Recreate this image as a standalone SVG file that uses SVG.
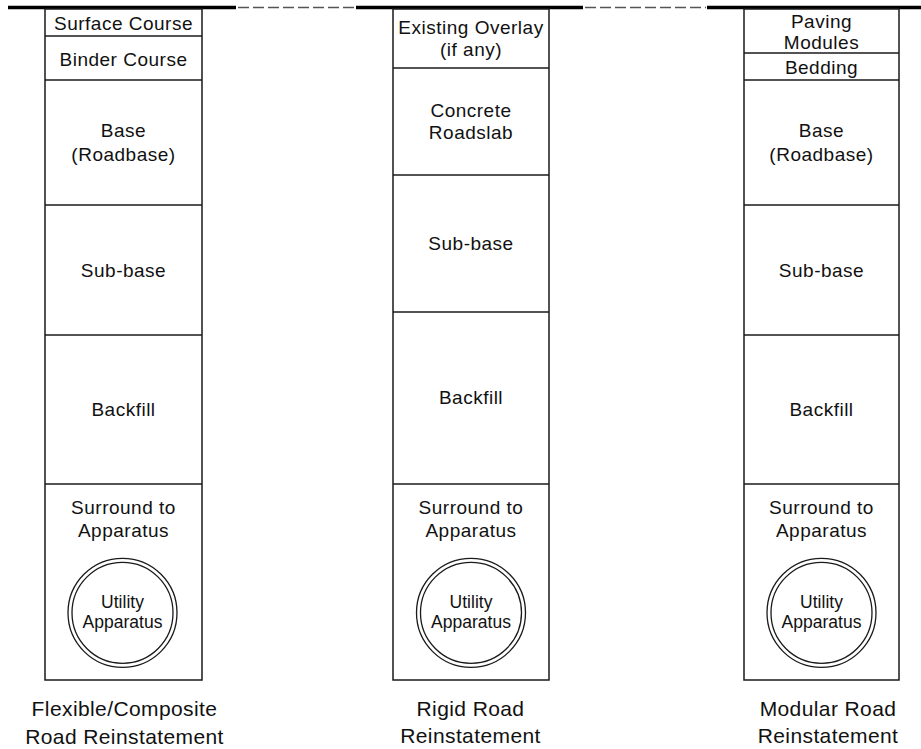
<svg xmlns="http://www.w3.org/2000/svg" width="921" height="749" viewBox="0 0 921 749">
<style>
.col{fill:#fff;stroke:#1a1a1a;stroke-width:1.5}
.div{stroke:#1a1a1a;stroke-width:1.5}
.t{font-family:"Liberation Sans",Arial,sans-serif;font-size:19px;letter-spacing:0.5px;fill:#111;text-anchor:middle}
.s{font-family:"Liberation Sans",Arial,sans-serif;font-size:17.5px;fill:#111;text-anchor:middle}
.c{font-family:"Liberation Sans",Arial,sans-serif;font-size:21px;letter-spacing:0.4px;fill:#111;text-anchor:middle}
.ring{fill:none;stroke:#1a1a1a;stroke-width:1.3}
.ground{stroke:#000;stroke-width:3.5;fill:none}
.dash{stroke:#555;stroke-width:1.5;stroke-dasharray:11 4;fill:none}
</style>
<rect width="921" height="749" fill="#fff"/>
<g id="ground">
<line class="ground" x1="8" y1="7.5" x2="236" y2="7.5"/>
<line class="dash" x1="238" y1="7.5" x2="355" y2="7.5"/>
<line class="ground" x1="356" y1="7.5" x2="583" y2="7.5"/>
<line class="dash" x1="585" y1="7.5" x2="706" y2="7.5"/>
<line class="ground" x1="707" y1="7.5" x2="921" y2="7.5"/>
</g>
<g id="flexible">
<rect class="col" x="45" y="9" width="157" height="671"/>
<line class="div" x1="45" y1="36" x2="202" y2="36"/>
<line class="div" x1="45" y1="80" x2="202" y2="80"/>
<line class="div" x1="45" y1="205" x2="202" y2="205"/>
<line class="div" x1="45" y1="335" x2="202" y2="335"/>
<line class="div" x1="45" y1="484" x2="202" y2="484"/>
<text class="t" x="123.5" y="30">Surface Course</text>
<text class="t" x="123.5" y="66">Binder Course</text>
<text class="t" x="123.5" y="137">Base</text>
<text class="t" x="123.5" y="161">(Roadbase)</text>
<text class="t" x="123.5" y="277">Sub-base</text>
<text class="t" x="123.5" y="416">Backfill</text>
<text class="t" x="123.5" y="514">Surround to</text>
<text class="t" x="123.5" y="537">Apparatus</text>
<circle class="ring" cx="122.5" cy="612.8" r="54.5"/>
<circle class="ring" cx="122.5" cy="612.8" r="50.5"/>
<text class="s" x="122.5" y="608">Utility</text>
<text class="s" x="122.5" y="628">Apparatus</text>
<text class="c" x="124.5" y="716">Flexible/Composite</text>
<text class="c" x="124.5" y="744">Road Reinstatement</text>
</g>
<g id="rigid">
<rect class="col" x="393" y="9" width="156" height="671"/>
<line class="div" x1="393" y1="68" x2="549" y2="68"/>
<line class="div" x1="393" y1="175" x2="549" y2="175"/>
<line class="div" x1="393" y1="312" x2="549" y2="312"/>
<line class="div" x1="393" y1="484" x2="549" y2="484"/>
<text class="t" x="471" y="34">Existing Overlay</text>
<text class="t" x="471" y="56">(if any)</text>
<text class="t" x="471" y="117">Concrete</text>
<text class="t" x="471" y="139">Roadslab</text>
<text class="t" x="471" y="250">Sub-base</text>
<text class="t" x="471" y="404">Backfill</text>
<text class="t" x="471" y="514">Surround to</text>
<text class="t" x="471" y="537">Apparatus</text>
<circle class="ring" cx="471" cy="612.8" r="54.5"/>
<circle class="ring" cx="471" cy="612.8" r="50.5"/>
<text class="s" x="471" y="608">Utility</text>
<text class="s" x="471" y="628">Apparatus</text>
<text class="c" x="470.5" y="716">Rigid Road</text>
<text class="c" x="470.5" y="743">Reinstatement</text>
</g>
<g id="modular">
<rect class="col" x="744" y="9" width="155" height="671"/>
<line class="div" x1="744" y1="53" x2="899" y2="53"/>
<line class="div" x1="744" y1="80" x2="899" y2="80"/>
<line class="div" x1="744" y1="205" x2="899" y2="205"/>
<line class="div" x1="744" y1="335" x2="899" y2="335"/>
<line class="div" x1="744" y1="484" x2="899" y2="484"/>
<text class="t" x="821.5" y="28">Paving</text>
<text class="t" x="821.5" y="49">Modules</text>
<text class="t" x="821.5" y="74">Bedding</text>
<text class="t" x="821.5" y="137">Base</text>
<text class="t" x="821.5" y="161">(Roadbase)</text>
<text class="t" x="821.5" y="277">Sub-base</text>
<text class="t" x="821.5" y="416">Backfill</text>
<text class="t" x="821.5" y="514">Surround to</text>
<text class="t" x="821.5" y="537">Apparatus</text>
<circle class="ring" cx="821.5" cy="612.8" r="54.5"/>
<circle class="ring" cx="821.5" cy="612.8" r="50.5"/>
<text class="s" x="821.5" y="608">Utility</text>
<text class="s" x="821.5" y="628">Apparatus</text>
<text class="c" x="828" y="716">Modular Road</text>
<text class="c" x="828" y="743">Reinstatement</text>
</g>
</svg>
